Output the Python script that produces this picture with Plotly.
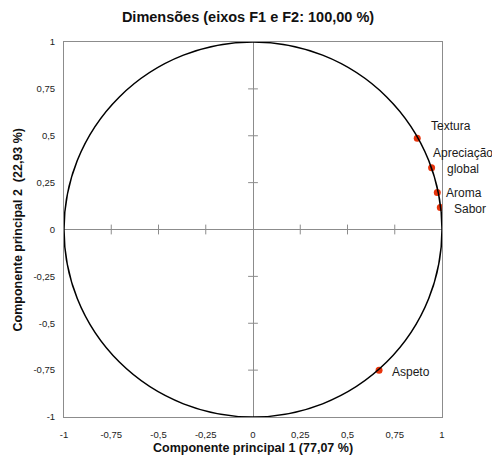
import plotly.graph_objects as go

variables = ["Textura", "Apreciação<br>global", "Aroma", "Sabor", "Aspeto"]
f1 = [0.869, 0.945, 0.975, 0.991, 0.667]
f2 = [0.487, 0.329, 0.197, 0.117, -0.750]
tick_vals = [-1, -0.75, -0.5, -0.25, 0, 0.25, 0.5, 0.75, 1]
tick_text = ["-1", "-0,75", "-0,5", "-0,25", "0", "0,25", "0,5", "0,75", "1"]
label_shift = [(12, 12, "left"), (-1, 7, "left"), (7, 0, "left"), (12, -1, "left"), (11, -2, "left")]

FONT = "Liberation Sans"
fig = go.Figure()

# tick marks on the zero axes
inner = [t for t in tick_vals if t not in (-1, 0, 1)]
fig.add_trace(go.Scatter(x=inner, y=[0] * len(inner), mode="markers",
                         marker=dict(symbol="line-ns", size=7, line=dict(color="#8c8c8c", width=1)),
                         hoverinfo="skip", showlegend=False))
fig.add_trace(go.Scatter(x=[0] * len(inner), y=inner, mode="markers",
                         marker=dict(symbol="line-ew", size=7, line=dict(color="#8c8c8c", width=1)),
                         hoverinfo="skip", showlegend=False))

fig.add_shape(type="circle", xref="x", yref="y", x0=-1, y0=-1, x1=1, y1=1,
              line=dict(color="black", width=1.5), layer="above")

fig.add_trace(go.Scatter(x=f1, y=f2, mode="markers",
                         marker=dict(color="#e8340c", size=7), showlegend=False))

for name, x, y, (dx, dy, anc) in zip(variables, f1, f2, label_shift):
    fig.add_annotation(x=x, y=y, xref="x", yref="y", text=name, showarrow=False,
                       xanchor=anc, yanchor="middle", xshift=dx, yshift=dy, align="center",
                       font=dict(family=FONT, size=12, color="#1a1a1a"))

fig.add_annotation(x=0.5, y=0, xref="paper", yref="paper", yshift=-31, yanchor="middle",
                   text="<b>Componente principal 1 (77,07 %)</b>", showarrow=False,
                   font=dict(family=FONT, size=12.5, color="#111"))
fig.add_annotation(x=0, y=0.5, xref="paper", yref="paper", xshift=-47, xanchor="center",
                   text="<b>Componente principal 2  (22,93 %)</b>", showarrow=False, textangle=-90,
                   font=dict(family=FONT, size=12.5, color="#111"))

axis_common = dict(range=[-1, 1], tickvals=tick_vals, ticktext=tick_text, automargin=False,
                   showgrid=False, zeroline=True, zerolinecolor="#8c8c8c", zerolinewidth=1,
                   showline=True, linecolor="#8c8c8c", linewidth=1, mirror=True,
                   ticks="", tickfont=dict(family=FONT, size=9.5, color="#222"))

fig.update_layout(
    width=500, height=460,
    margin=dict(l=56, r=66, t=34, b=51),
    plot_bgcolor="white", paper_bgcolor="white",
    title=dict(text="<b>Dimensões (eixos F1 e F2: 100,00 %)</b>", x=0.48, xanchor="center",
               y=0.980, yanchor="middle", font=dict(family=FONT, size=14.5, color="#111")),
    xaxis=dict(**axis_common, ticklabelstandoff=9),
    yaxis=dict(**axis_common, ticklabelstandoff=6),
)

fig.write_html("out.html")
